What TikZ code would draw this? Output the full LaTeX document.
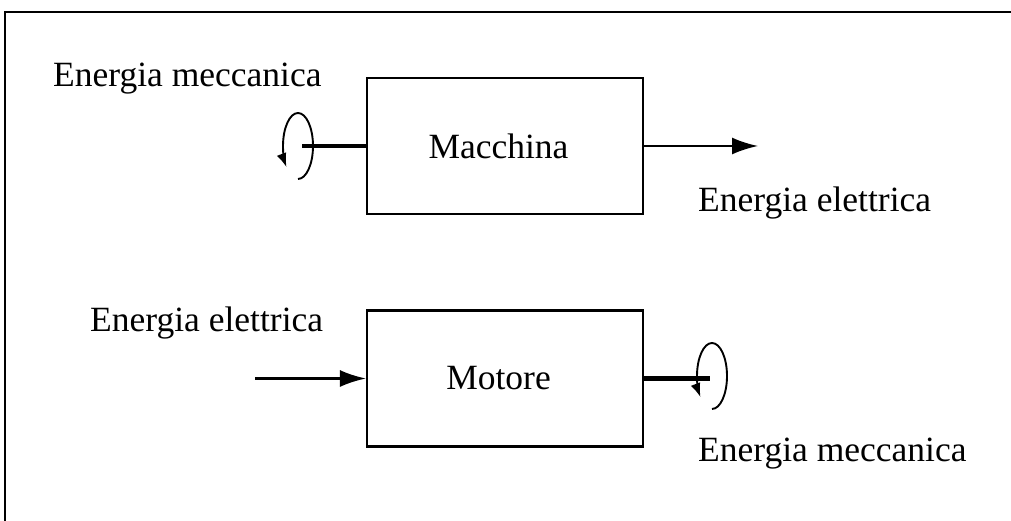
\documentclass[tikz,border=0pt]{standalone}
\usepackage{fontspec}
\setmainfont{Liberation Serif}
\usetikzlibrary{arrows.meta}
\begin{document}
\begin{tikzpicture}[x=1pt,y=1pt,
  every node/.style={font=\fontsize{35.5}{40}\selectfont, inner sep=0pt},
  block/.style={draw, line width=2.2pt, minimum width=276pt, minimum height=136pt},
  label/.style={anchor=base west},
  flow/.style={line width=2.2pt, -{Latex[length=26pt,width=17pt]}},
  shaft/.style={line width=4.5pt},
  spin/.style={line width=1.9pt, -{Latex[length=14pt,width=10pt]}}]
  \useasboundingbox (0,0) rectangle (1011,521);
  % open frame: left and top edges only
  \draw[line width=2.4pt] (5,0) -- (5,509) -- (1011,509);

  % generator
  \node[block] (mac) at (505,375) {Macchina\hspace*{13pt}};
  \coordinate (genout) at (758,375);
  \coordinate (genshaft) at (302,375);
  \draw[flow] (mac.east) -- (genout);
  \draw[spin] (298,342) arc[start angle=-90, end angle=220, x radius=15, y radius=33];
  \draw[shaft] (mac.west) -- (genshaft);
  \node[label] (mecin) at (53,434) {Energia meccanica};
  \node[label] (elout) at (698,309) {Energia elettrica};

  % motor
  \node[block] (mot) at (505,142.5) {Motore\hspace*{13pt}};
  \coordinate (motin) at (255,142.5);
  \coordinate (motshaft) at (710,142.5);
  \draw[flow] (motin) -- (mot.west);
  \draw[spin] (712,112) arc[start angle=-90, end angle=220, x radius=15, y radius=33];
  \draw[shaft] (mot.east) -- (motshaft);
  \node[label] (elin) at (90,189) {Energia elettrica};
  \node[label] (mecout) at (698,59) {Energia meccanica};
\end{tikzpicture}
\end{document}
